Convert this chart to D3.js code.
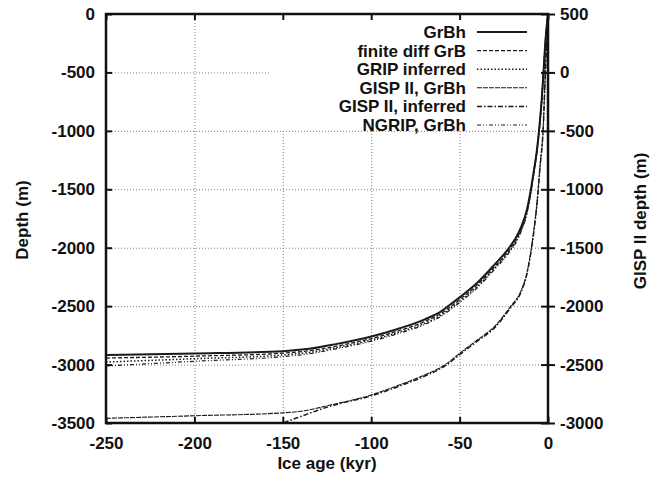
<!DOCTYPE html>
<html>
<head>
<meta charset="utf-8">
<script src="https://cdn.jsdelivr.net/npm/d3@7"></script>
<style>
body { margin: 0; background: #fff; }
svg text { font-family: "Liberation Sans", Arial, Helvetica, sans-serif; font-weight: bold; fill: #111; }
.grid line { stroke: #808080; stroke-width: 1; stroke-dasharray: 1,2; }
.grid path { display: none; }
</style>
</head>
<body>
<svg width="658" height="483"></svg>
<script>
// tick labels
var ageTicks = [-250, -200, -150, -100, -50, 0];
var depthTicks = [0, -500, -1000, -1500, -2000, -2500, -3000, -3500];
var gispTicks = [500, 0, -500, -1000, -1500, -2000, -2500, -3000];
var ageGrid = [-200, -150, -100, -50];
var depthGrid = [-500, -1000, -1500, -2000, -2500, -3000];

// GRIP / NGRIP curves (left axis, depth m) vs ice age (kyr)
var ageGrip = [-250, -200, -150, -135, -120, -100, -85, -70, -60, -56, -50, -40, -30, -23, -16, -12, -10, -8, -6.4, -3.6, -1.1, 0];
var grbhDepth = [-2918, -2905, -2885, -2865, -2825, -2760, -2695, -2615, -2540, -2495, -2425, -2300, -2140, -2020, -1850, -1680, -1530, -1340, -1180, -740, -165, 0];
var finiteDiffDepth = [-2944, -2928, -2902, -2882, -2843, -2778, -2713, -2633, -2558, -2515, -2445, -2318, -2160, -2040, -1868, -1695, -1543, -1350, -1188, -745, -167, 0];
var gripInferredDepth = [-2978, -2950, -2918, -2896, -2856, -2790, -2726, -2648, -2572, -2528, -2458, -2332, -2172, -2052, -1880, -1705, -1550, -1357, -1193, -750, -168, 0];
var ngripDepth = [-3012, -2972, -2932, -2908, -2866, -2800, -2736, -2658, -2582, -2540, -2470, -2343, -2182, -2062, -1890, -1712, -1557, -1362, -1197, -752, -170, 0];

// GISP II curves (right axis, GISP II depth m)
var ageGisp = [-250, -200, -150, -140, -123, -100, -85, -70, -58, -50, -40, -30, -21.5, -15, -12, -10, -8, -6, -4.5, -2.8, -1.5, 0];
var gispGrbhDepth = [-2960, -2938, -2913, -2900, -2846, -2760, -2680, -2590, -2500, -2404, -2290, -2170, -2010, -1860, -1720, -1560, -1350, -1080, -800, -500, 0, 500];
var ageGispInf = [-155, -150, -140, -123, -100, -85, -70, -58, -50, -40, -30, -21.5, -15, -12, -10, -8, -6, -4.5, -2.8, -1.5, 0];
var gispInferredDepth = [-3030, -3000, -2945, -2855, -2768, -2690, -2600, -2510, -2415, -2300, -2182, -2020, -1870, -1730, -1570, -1360, -1090, -808, -505, -5, 500];

var legendNames = ['GrBh', 'finite diff GrB', 'GRIP inferred', 'GISP II, GrBh', 'GISP II, inferred', 'NGRIP, GrBh'];

var margin = {top: 14, right: 110, bottom: 60, left: 106};
var w = 658 - margin.left - margin.right;
var h = 483 - margin.top - margin.bottom;

var svg = d3.select('svg');
var g = svg.append('g').attr('transform', 'translate(' + margin.left + ',' + margin.top + ')');

var x = d3.scaleLinear().domain([-250, 0]).range([0, w]);
var yL = d3.scaleLinear().domain([-3500, 0]).range([h, 0]);
var yR = d3.scaleLinear().domain([-3000, 500]).range([h, 0]);
var plain = function(d) { return String(d); };

// grid
g.append('g').attr('class', 'grid')
    .call(d3.axisLeft(yL).tickValues(depthGrid).tickSize(-w).tickFormat(''));
g.append('g').attr('class', 'grid')
    .attr('transform', 'translate(0,' + h + ')')
    .call(d3.axisBottom(x).tickValues(ageGrid).tickSize(-h).tickFormat(''));

// key box hides the grid behind it
g.append('rect')
    .attr('x', 164).attr('y', 2)
    .attr('width', w - 166).attr('height', 114)
    .attr('fill', '#fff');

var series = [
    {name: legendNames[0], age: ageGrip, depth: grbhDepth, y: yL, dash: null, sw: 2},
    {name: legendNames[1], age: ageGrip, depth: finiteDiffDepth, y: yL, dash: '4,2', sw: 1.3},
    {name: legendNames[2], age: ageGrip, depth: gripInferredDepth, y: yL, dash: '1.5,2', sw: 1.5},
    {name: legendNames[3], age: ageGisp, depth: gispGrbhDepth, y: yR, dash: '5,1', sw: 1.1},
    {name: legendNames[4], age: ageGispInf, depth: gispInferredDepth, y: yR, dash: '5,2,1.5,2', sw: 1.5},
    {name: legendNames[5], age: ageGrip, depth: ngripDepth, y: yL, dash: '4,2,1,2,1,2', sw: 1.2}
];

svg.append('defs').append('clipPath').attr('id', 'plotclip')
    .append('rect').attr('width', w).attr('height', h);

var plot = g.append('g').attr('clip-path', 'url(#plotclip)');

series.forEach(function(s) {
    var pts = s.age.map(function(a, i) { return [a, s.depth[i]]; });
    var line = d3.line()
        .x(function(d) { return x(d[0]); })
        .y(function(d) { return s.y(d[1]); })
        .curve(d3.curveMonotoneX);
    plot.append('path')
        .attr('d', line(pts))
        .attr('fill', 'none')
        .attr('stroke', '#1a1a1a')
        .attr('stroke-width', s.sw)
        .attr('stroke-dasharray', s.dash);
});

// legend
var key = g.append('g');
series.forEach(function(s, i) {
    var ky = 18 + i * 18.6;
    key.append('text')
        .attr('x', 360).attr('y', ky).attr('dy', '0.35em')
        .attr('text-anchor', 'end')
        .style('font-size', '17px')
        .text(s.name);
    key.append('line')
        .attr('x1', 371).attr('x2', 421)
        .attr('y1', ky).attr('y2', ky)
        .attr('stroke', '#1a1a1a')
        .attr('stroke-width', s.sw)
        .attr('stroke-dasharray', s.dash);
});

// axes
var axLeft = g.append('g')
    .call(d3.axisLeft(yL).tickValues(depthTicks).tickFormat(plain).tickSize(-6).tickPadding(11));
var axBottom = g.append('g')
    .attr('transform', 'translate(0,' + h + ')')
    .call(d3.axisBottom(x).tickValues(ageTicks).tickFormat(plain).tickSize(-6).tickPadding(14));
var axTop = g.append('g')
    .call(d3.axisTop(x).tickValues(ageTicks).tickSize(-6).tickFormat(''));
var axRight = g.append('g')
    .attr('transform', 'translate(' + w + ',0)')
    .call(d3.axisRight(yR).tickValues(gispTicks).tickFormat(plain).tickSize(7).tickPadding(5));
axRight.selectAll('.tick line').attr('x1', -7);

[axLeft, axBottom, axTop, axRight].forEach(function(a) {
    a.select('.domain').remove();
    a.selectAll('.tick line').attr('stroke', '#111').attr('stroke-width', 2);
    a.selectAll('text').style('font-size', '17px').attr('fill', '#111');
});

g.append('rect')
    .attr('width', w).attr('height', h)
    .attr('fill', 'none')
    .attr('stroke', '#111')
    .attr('stroke-width', 2.5);

// titles
svg.append('text')
    .attr('transform', 'translate(22,220) rotate(-90)')
    .attr('text-anchor', 'middle').attr('dy', '0.35em')
    .style('font-size', '17px')
    .text('Depth (m)');
svg.append('text')
    .attr('x', 327).attr('y', 463)
    .attr('text-anchor', 'middle').attr('dy', '0.35em')
    .style('font-size', '17px')
    .text('Ice age (kyr)');
svg.append('text')
    .attr('transform', 'translate(640,221) rotate(-90)')
    .attr('text-anchor', 'middle').attr('dy', '0.35em')
    .style('font-size', '17px')
    .text('GISP II depth (m)');
</script>
</body>
</html>
